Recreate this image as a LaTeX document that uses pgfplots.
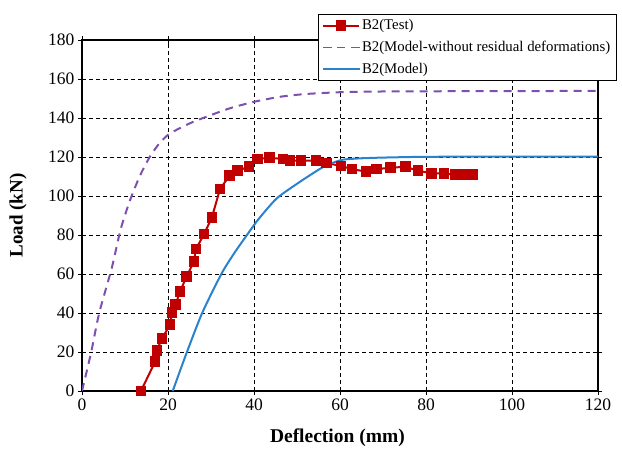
\documentclass[border=0pt]{standalone}
\usepackage{pgfplots}
\pgfplotsset{compat=1.18}
\usepackage{fontspec}
\setmainfont{Liberation Serif}
\definecolor{testred}{RGB}{192,0,0}
\definecolor{modpurple}{RGB}{125,80,175}
\definecolor{modblue}{RGB}{40,130,205}
\begin{document}
\begin{tikzpicture}
\begin{axis}[
  name=ax,
  scale only axis,
  width=516pt, height=351pt,
  xmin=0, xmax=120, ymin=0, ymax=180,
  xtick={0,20,...,120}, ytick={0,20,...,180},
  grid=major,
  major grid style={black, thin, dash pattern=on 4pt off 3pt},
  axis line style={black, line width=1.1pt},
  tick style={black, line width=1pt},
  tick align=center, major tick length=8pt,
  /pgf/number format/assume math mode=true,
  tick label style={font=\fontsize{17.5}{19}\selectfont, text=black},
  xlabel={\textbf{Deflection (mm)}},
  ylabel={\textbf{Load (kN)}},
  xlabel style={at={(axis description cs:0.495,-0.134)}, anchor=center, font=\fontsize{19.5}{21}\selectfont},
  ylabel style={at={(axis description cs:-0.124,0.5)}, anchor=center, font=\fontsize{19}{21}\selectfont},
  legend image code/.code={\draw[mark repeat=2,mark phase=2,#1,line width=1.8pt] plot coordinates {(0pt,0pt) (18pt,0pt) (36pt,0pt)};},
  legend style={at={(0.4574,1.074)}, anchor=north west, draw=black, fill=white,
    font=\fontsize{14.8}{16}\selectfont, row sep=6pt, inner xsep=4pt, inner ysep=3.5pt},
  legend cell align=left,
]
\addplot[testred, line width=2pt, mark=square*, mark size=4.3pt, mark options={solid}] coordinates {
(13.7,0) (17.0,15) (17.4,20.7) (18.6,27) (20.5,34) (20.9,40.4) (21.8,44.5) (22.8,51) (24.3,58.6) (26.0,66.3) (26.5,72.8) (28.4,80.5) (30.2,89) (32.1,103.6) (34.3,110.4) (36.2,113) (38.8,115) (40.8,119) (43.6,119.6) (46.7,119) (48.4,118.1) (50.9,118.1) (54.4,118.1) (56.9,116.9) (60.2,115.4) (62.8,113.8) (66.0,112.5) (68.5,113.8) (71.8,114.5) (75.2,115) (78.1,113) (81.3,111.6) (84.2,111.6) (86.7,110.9) (89.2,110.9) (90.8,110.9)
};
\addlegendentry{B2(Test)}
\addplot[modpurple, line width=2pt, dash pattern=on 8pt off 6pt, smooth, tension=0.4] coordinates {
(0,0) (2.1,19.6) (4.0,40) (6.9,62.9) (9,83) (11.2,98) (13.5,110.5) (15.8,120.2) (18,127) (20.4,132) (25.1,137.3) (29.0,140.7) (34.4,145) (40.2,148.4) (46.1,150.9) (52,152.3) (60.8,153.3) (70,153.6) (80,153.7) (100,153.8) (120,153.9)
};
\addlegendentry{B2(Model-without residual deformations)}
\addplot[modblue, line width=2pt, smooth, tension=0.4] coordinates {
(21.1,0) (24.0,17.6) (27.9,39.8) (32.5,60.4) (35.5,71) (38.3,79.8) (41,88) (45.3,98.8) (50.7,107.3) (56.2,115) (60.4,118.5) (64.7,119.3) (70,119.7) (80,120.1) (100,120.2) (120,120.2)
};
\addlegendentry{B2(Model)}
\end{axis}
\pgfresetboundingbox
\path[use as bounding box] ([xshift=-82pt,yshift=-57pt]ax.south west) rectangle ([xshift=24pt,yshift=40pt]ax.north east);
\end{tikzpicture}
\end{document}
